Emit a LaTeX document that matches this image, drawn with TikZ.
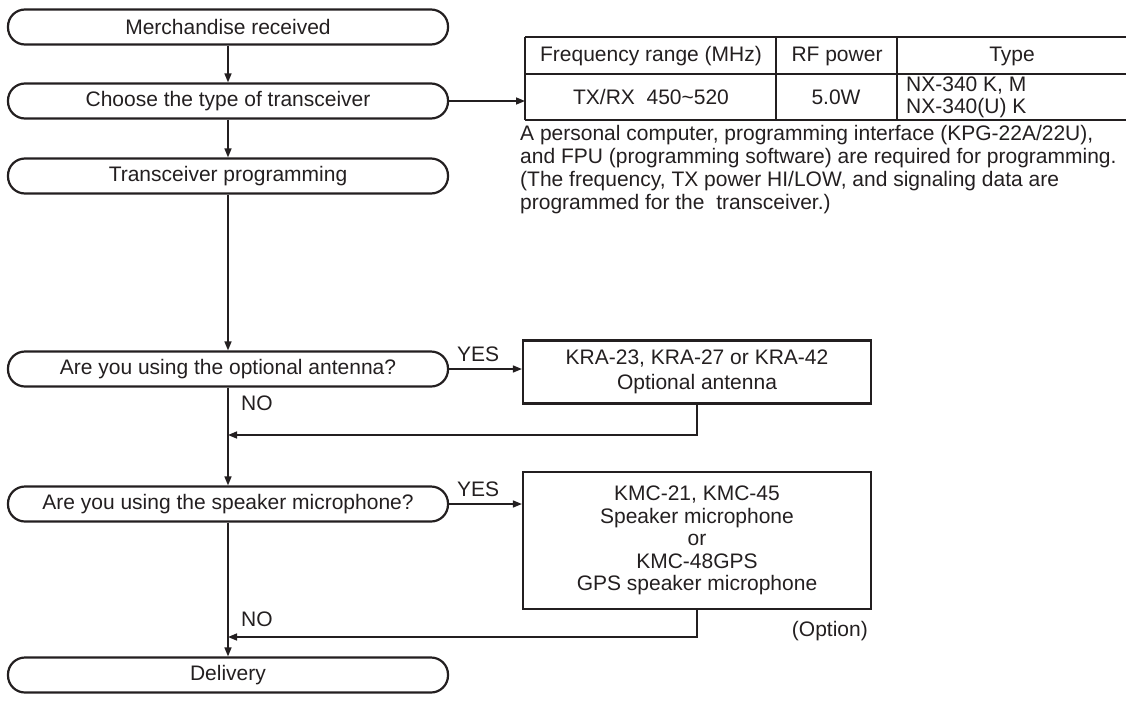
\documentclass[tikz,border=0pt]{standalone}
\usepackage{fontspec}
\setmainfont{Liberation Sans}
\usetikzlibrary{arrows.meta}
\definecolor{ink}{RGB}{35,31,32}
\begin{document}
\begin{tikzpicture}[x=1pt,y=-1pt,
  every node/.style={font=\fontsize{21}{25}\selectfont, text=ink, inner sep=0pt},
  stepbox/.style={draw=ink, line width=2.2pt, rectangle, rounded corners=17pt, minimum width=440pt, minimum height=35pt},
  optbox/.style={draw=ink, line width=2.2pt, rectangle, minimum width=348pt, align=center},
  conn/.style={draw=ink, line width=1.5pt, -{Triangle[length=9pt,width=7pt]}},
  tabline/.style={draw=ink, line width=1.6pt},
  lbl/.style={anchor=west}
]
\useasboundingbox (0,0) rectangle (1126,707);
% main flow
\node[stepbox] (m1) at (228,27) {Merchandise received};
\node[stepbox] (m2) at (228,101) {Choose the type of transceiver};
\node[stepbox] (m3) at (228,176) {Transceiver programming};
\node[stepbox] (q1) at (228,369) {Are you using the optional antenna?};
\node[stepbox] (q2) at (228,504) {Are you using the speaker microphone?};
\node[stepbox] (m4) at (228,675) {Delivery};
% option boxes
\node[optbox, minimum height=63pt, font=\fontsize{21}{25}\selectfont] (o1) at (697,372) {KRA-23, KRA-27 or KRA-42\\Optional antenna};
\node[optbox, minimum height=137pt, font=\fontsize{21}{22.5}\selectfont] (o2) at (697,540.5) {KMC-21, KMC-45\\Speaker microphone\\or\\KMC-48GPS\\GPS speaker microphone};
\node[anchor=east] (opt) at (868,631) {(Option)};
% junctions
\coordinate (j1) at (228,435);
\coordinate (j2) at (228,637);
% table
\coordinate (tab) at (525,101);
\draw[tabline] (525,37) -- (1126,37);
\draw[tabline] (525,74) -- (1126,74);
\draw[tabline] (525,120) -- (1126,120);
\draw[tabline] (525,37) -- (525,120);
\draw[tabline] (776,37) -- (776,120);
\draw[tabline] (897,37) -- (897,120);
\node (h1) at (651,56) {Frequency range (MHz)};
\node (h2) at (837,56) {RF power};
\node (h3) at (1012,56) {Type};
\node (c1) at (651,97) {TX/RX\ \ 450\textasciitilde520};
\node (c2) at (836,97) {5.0W};
\node[anchor=west, align=left, font=\fontsize{21}{22}\selectfont] (c3) at (906,97) {NX-340 K, M\\NX-340(U) K};
\node[anchor=north west, align=left, font=\fontsize{21}{23}\selectfont] (note) at (520,125) {A personal computer, programming interface (KPG-22A/22U),\\and FPU (programming software) are required for programming.\\(The frequency, TX power HI/LOW, and signaling data are\\programmed for the\ \ transceiver.)};
% connectors
\draw[conn] (m1) -- (m2);
\draw[conn] (m2) -- (m3);
\draw[conn] (m3) -- (q1);
\draw[conn] (q1) -- (q2);
\draw[conn] (q2) -- (m4);
\draw[conn] (m2.east) -- (tab);
\draw[conn] (q1.east) -- (q1.east -| o1.west);
\draw[conn] (q2.east) -- (q2.east -| o2.west);
\draw[conn] (o1.south) |- (j1);
\draw[conn] (o2.south) |- (j2);
% labels
\node[lbl] (y1) at (457,354) {YES};
\node[lbl] (y2) at (457,489) {YES};
\node[lbl] (n1) at (241,403) {NO};
\node[lbl] (n2) at (241,619) {NO};
\end{tikzpicture}
\end{document}
